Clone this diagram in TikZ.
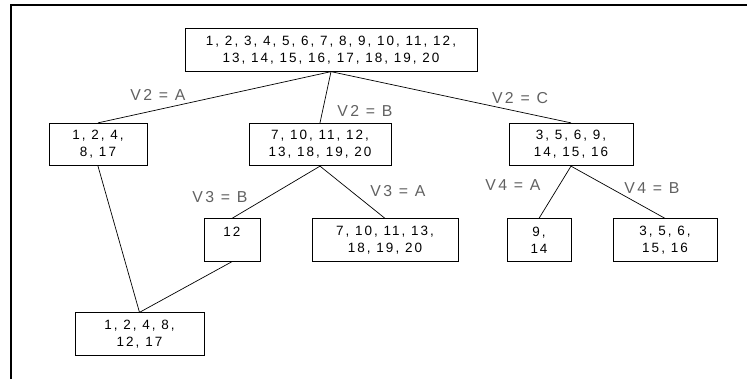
\documentclass[tikz,border=0pt]{standalone}
\usepackage{fontspec}
\setmainfont{Liberation Sans}[LetterSpace=15]
\usepackage{tikz}

\begin{document}
\begin{tikzpicture}[x=0.03cm,y=-0.03cm,
	setbox/.style={draw,line width=0.8pt,align=center,inner sep=0pt,
		font=\fontsize{11.5}{14.5}\selectfont,minimum height=1.27cm},
	branch/.style={line width=0.6pt},
	cond/.style={text=black!62,inner sep=0pt,font=\fontsize{13.5}{15}\selectfont}]
	\useasboundingbox (0,0) rectangle (747,379);
	\draw[line width=1pt] (11,379) -- (11,5) -- (747,5);
	% the sets
	\node[setbox,minimum width=8.76cm] (all) at (331,50) {1, 2, 3, 4, 5, 6, 7, 8, 9, 10, 11, 12,\\13, 14, 15, 16, 17, 18, 19, 20};
	\node[setbox,minimum width=2.94cm] (a) at (98,144.5) {1, 2, 4,\\8, 17};
	\node[setbox,minimum width=4.26cm] (b) at (320,144.5) {7, 10, 11, 12,\\13, 18, 19, 20};
	\node[setbox,minimum width=3.72cm] (c) at (571,144.5) {3, 5, 6, 9,\\14, 15, 16};
	\node[setbox,minimum width=1.68cm] (bb) at (232,240) {12\\\mbox{}};
	\node[setbox,minimum width=4.38cm] (ba) at (385,240) {7, 10, 11, 13,\\18, 19, 20};
	\node[setbox,minimum width=1.92cm] (ca) at (539,240) {9,\\14};
	\node[setbox,minimum width=3.12cm] (cb) at (665,240) {3, 5, 6,\\15, 16};
	\node[setbox,minimum width=3.87cm] (ab) at (139.5,334) {1, 2, 4, 8,\\12, 17};
	% the splits
	\draw[branch] (all.south) -- (a.north);
	\draw[branch] (all.south) -- (b.north);
	\draw[branch] (all.south) -- (c.north);
	\draw[branch] (b.south) -- (bb.north);
	\draw[branch] (b.south) -- (ba.north);
	\draw[branch] (c.south) -- (ca.north);
	\draw[branch] (c.south) -- (cb.north);
	\draw[branch] (a.south) -- (ab.north);
	\draw[branch] (bb.south) -- (ab.north);
	% conditions
	\node[cond] (v2a) at (158,95) {V2 = A};
	\node[cond] (v2b) at (365,111) {V2 = B};
	\node[cond] (v2c) at (520,98) {V2 = C};
	\node[cond] (v3b) at (220,197) {V3 = B};
	\node[cond] (v3a) at (398,191) {V3 = A};
	\node[cond] (v4a) at (513,185) {V4 = A};
	\node[cond] (v4b) at (652,188) {V4 = B};
\end{tikzpicture}
\end{document}
